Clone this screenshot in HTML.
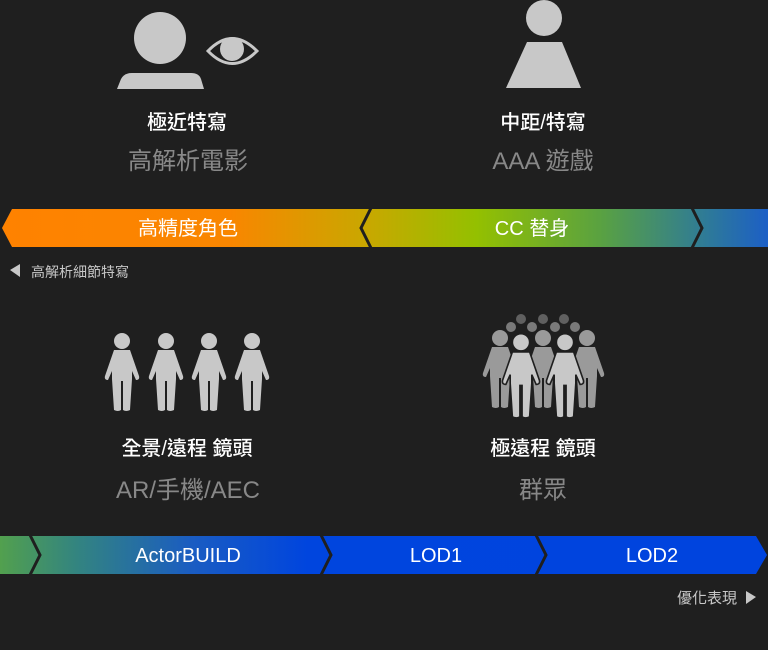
<!DOCTYPE html>
<html><head><meta charset="utf-8"><style>
html,body{margin:0;padding:0;background:#1f1f1f;}
svg{display:block;}
text{font-family:"Liberation Sans","Noto Sans CJK TC",sans-serif;}
</style></head><body>
<svg width="768" height="650" viewBox="0 0 768 650" xmlns="http://www.w3.org/2000/svg">
<defs>
<linearGradient id="g1" x1="0" x2="768" y1="0" y2="0" gradientUnits="userSpaceOnUse">
<stop offset="0" stop-color="#ff8200"/>
<stop offset="0.30" stop-color="#f98600"/>
<stop offset="0.48" stop-color="#c8a800"/>
<stop offset="0.62" stop-color="#94c000"/>
<stop offset="0.78" stop-color="#5aa240"/>
<stop offset="0.92" stop-color="#2e7a98"/>
<stop offset="1" stop-color="#1c5fc6"/>
</linearGradient>
<linearGradient id="g2" x1="0" x2="768" y1="0" y2="0" gradientUnits="userSpaceOnUse">
<stop offset="0" stop-color="#52a04e"/>
<stop offset="0.1" stop-color="#338480"/>
<stop offset="0.25" stop-color="#1a5cc2"/>
<stop offset="0.4" stop-color="#0045de"/>
<stop offset="1" stop-color="#0044de"/>
</linearGradient>
<g id="p">
<circle cx="0" cy="-9" r="8"/>
<path d="M-8,0 H8 L17,26 Q18,30 14,30 L10,21 V29 L8,60 Q4,62 1,60 V31 H-1 V60 Q-4,62 -8,60 L-10,29 V21 L-14,30 Q-18,30 -17,26 Z"/>
</g>
</defs>
<g fill="#c8c8c8">
<circle cx="160" cy="38" r="26"/>
<path d="M117,89 L121,79 Q124,73 132,73 H191 Q199,73 201,79 L204,89 Z"/>
<path d="M208,51 Q232,26 257,51 Q232,76 208,51 Z" fill="none" stroke="#c8c8c8" stroke-width="3"/>
<circle cx="232" cy="49" r="12"/>
<circle cx="544" cy="18" r="18"/>
<path d="M527,42 H562 L581,88 H506 Z"/>
</g>
<g text-anchor="middle">
<text x="187" y="129" font-size="20" font-weight="500" fill="#fff">極近特寫</text>
<text x="188" y="169" font-size="24" fill="#888">高解析電影</text>
<text x="543" y="129" font-size="20" font-weight="500" fill="#fff">中距/特寫</text>
<text x="543" y="169" font-size="24" fill="#888">AAA 遊戲</text>
</g>
<path d="M12,209 H768 V247 H12 L2,228 Z" fill="url(#g1)"/>
<path d="M371,208 L361,228 L371,248" fill="none" stroke="#1f1f1f" stroke-width="3"/>
<path d="M692,208 L702,228 L692,248" fill="none" stroke="#1f1f1f" stroke-width="3"/>
<g text-anchor="middle" font-size="20" fill="#fff">
<text x="188" y="235">高精度角色</text>
<text x="532" y="235">CC 替身</text>
</g>
<path d="M10,270 L20,264 V277 Z" fill="#c8c8c8"/>
<text x="31" y="277" font-size="14" fill="#c8c8c8">高解析細節特寫</text>
<g fill="#c8c8c8">
<use href="#p" x="122" y="350"/>
<use href="#p" x="166" y="350"/>
<use href="#p" x="209" y="350"/>
<use href="#p" x="252" y="350"/>
</g>
<g>
<circle cx="521" cy="319" r="5" fill="#606060"/><circle cx="543" cy="319" r="5" fill="#606060"/><circle cx="564" cy="319" r="5" fill="#606060"/>
<circle cx="511" cy="327" r="5" fill="#7a7a7a"/><circle cx="532" cy="327" r="5" fill="#7a7a7a"/><circle cx="555" cy="327" r="5" fill="#7a7a7a"/><circle cx="575" cy="327" r="5" fill="#7a7a7a"/>
<g fill="#9a9a9a">
<use href="#p" x="500" y="347"/>
<use href="#p" x="543" y="347"/>
<use href="#p" x="587" y="347"/>
</g>
<g fill="#c8c8c8" stroke="#1f1f1f" stroke-width="1.5">
<use href="#p" x="521" y="352" transform="translate(521 352) scale(1.08) translate(-521 -352)"/>
<use href="#p" x="565" y="352" transform="translate(565 352) scale(1.08) translate(-565 -352)"/>
</g>
</g>
<g text-anchor="middle">
<text x="187" y="455" font-size="20" font-weight="500" fill="#fff">全景/遠程 鏡頭</text>
<text x="188" y="498" font-size="24" fill="#888">AR/手機/AEC</text>
<text x="543" y="455" font-size="20" font-weight="500" fill="#fff">極遠程 鏡頭</text>
<text x="543" y="498" font-size="24" fill="#888">群眾</text>
</g>
<path d="M0,536 H756 L767,555 L756,574 H0 Z" fill="url(#g2)"/>
<g fill="none" stroke="#1f1f1f" stroke-width="3">
<path d="M30,535 L40,555 L30,575"/>
<path d="M321,535 L331,555 L321,575"/>
<path d="M536,535 L546,555 L536,575"/>
</g>
<g text-anchor="middle" font-size="20" fill="#fff">
<text x="188" y="562">ActorBUILD</text>
<text x="436" y="562">LOD1</text>
<text x="652" y="562">LOD2</text>
</g>
<text x="737" y="603" font-size="15" fill="#c8c8c8" text-anchor="end">優化表現</text>
<path d="M746,591 L756,597 L746,604 Z" fill="#c8c8c8"/>
</svg>
</body></html>
